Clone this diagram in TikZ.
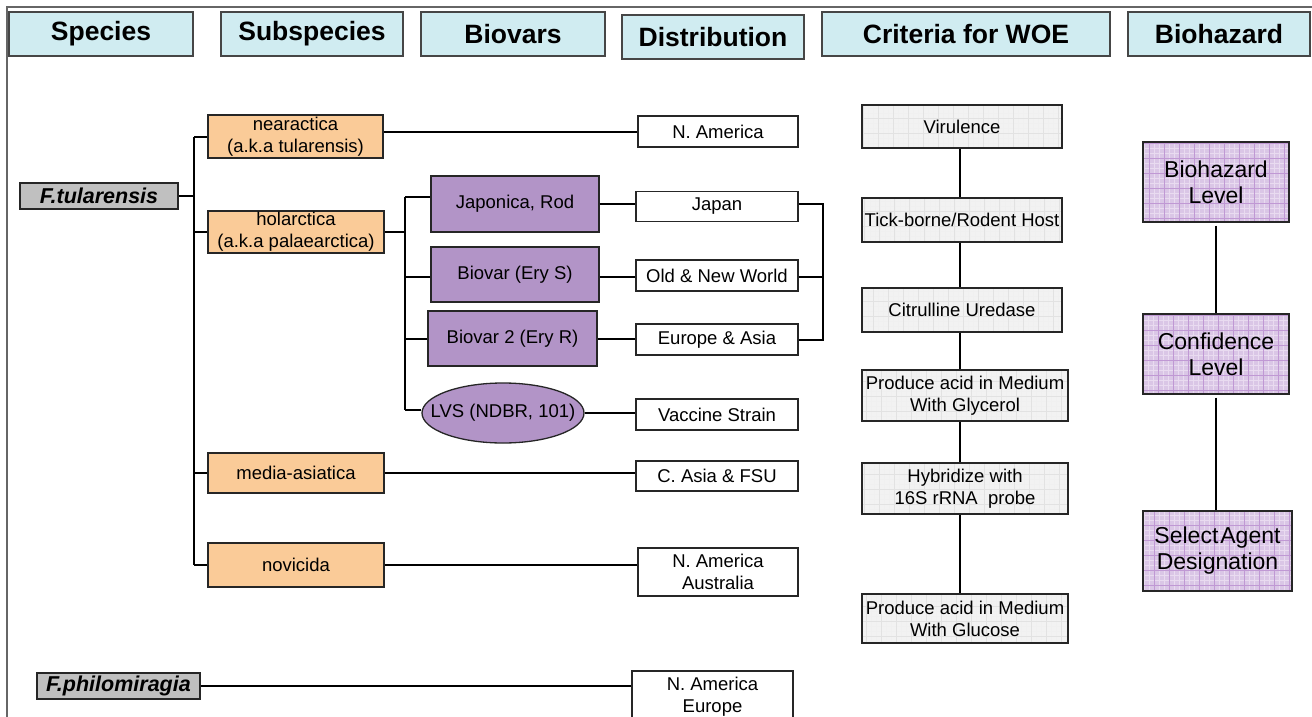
\documentclass[tikz,border=0pt]{standalone}
\usepackage{fontspec}
\setmainfont{Liberation Sans}
\usetikzlibrary{shapes.geometric}
\definecolor{hdrfill}{RGB}{208,236,241}
\definecolor{hdrline}{RGB}{70,70,70}
\definecolor{orangefill}{RGB}{250,203,152}
\definecolor{purplefill}{RGB}{178,148,199}
\definecolor{specfill}{RGB}{192,192,192}
\definecolor{critfill}{RGB}{242,242,242}
\definecolor{critgrid}{RGB}{226,226,226}
\definecolor{hazfill}{RGB}{218,198,230}
\definecolor{hazgrid}{RGB}{192,152,212}
\tikzset{
  hdr/.style={draw=hdrline, line width=1.4pt, fill=hdrfill, inner sep=0pt,
    font=\fontsize{26.5}{30}\selectfont\bfseries},
  box/.style={draw=black!85, line width=1.3pt, inner sep=0pt, align=center,
    font=\fontsize{18.5}{22}\selectfont},
  subbox/.style={box, fill=orangefill},
  biobox/.style={box, fill=purplefill},
  distbox/.style={box, fill=white},
  specbox/.style={box, fill=specfill, font=\fontsize{21.5}{24}\selectfont\bfseries\itshape},
  critbox/.style={box, fill=critfill, path picture={
      \draw[critgrid!50, line width=0.3pt, step=5pt] (path picture bounding box.south west) grid (path picture bounding box.north east);
      \draw[critgrid, line width=0.4pt, step=15pt] (path picture bounding box.south west) grid (path picture bounding box.north east);}},
  hazbox/.style={box, fill=hazfill, font=\fontsize{23}{26}\selectfont, path picture={
      \draw[hazgrid!35, line width=0.3pt, step=5pt] (path picture bounding box.south west) grid (path picture bounding box.north east);
      \draw[hazgrid, line width=0.6pt, step=15pt] (path picture bounding box.south west) grid (path picture bounding box.north east);}},
  conn/.style={line width=2pt, black},
  framel/.style={line width=1.2pt, black!60}
}
\begin{document}
\begin{tikzpicture}[x=1pt, y=-1pt]
\useasboundingbox (0,0) rectangle (1312,717);
\clip (0,0) rectangle (1312,717);
% frame
\draw[framel] (7,717) -- (7,7) -- (1312,7);
% headers
\node[hdr, minimum width=184pt, minimum height=44pt] (hspec) at (101,34) {Species};
\node[hdr, minimum width=182pt, minimum height=44pt] (hsub) at (312,34) {Subspecies};
\node[hdr, minimum width=184pt, minimum height=44pt] (hbio) at (513,34) {Biovars};
\node[hdr, minimum width=182pt, minimum height=44pt] (hdist) at (713,37) {Distribution};
\node[hdr, minimum width=288pt, minimum height=44pt] (hcrit) at (966,34) {Criteria for WOE};
\node[hdr, minimum width=182pt, minimum height=44pt] (hhaz) at (1219,34) {Biohazard};
% species
\node[specbox, minimum width=158pt, minimum height=26pt] (ftul) at (99,196) {F.tularensis};
\node[specbox, minimum width=163pt, minimum height=26pt] (philo) at (118.5,686) {F.philomiragia};
% subspecies
\node[subbox, minimum width=175pt, minimum height=43pt] (near) at (295.5,136.5) {nearactica\\(a.k.a tularensis)};
\node[subbox, minimum width=176pt, minimum height=42pt] (holar) at (296,232) {holarctica\\(a.k.a palaearctica)};
\node[subbox, minimum width=176pt, minimum height=40pt] (media) at (296,473) {media-asiatica};
\node[subbox, minimum width=176pt, minimum height=44pt] (novi) at (296,565) {novicida};
% biovars
\node[biobox, minimum width=168pt, minimum height=56pt] (japo) at (515,204) {Japonica, Rod};
\node[biobox, minimum width=168pt, minimum height=55pt] (erys) at (515,274.5) {Biovar (Ery S)};
\node[biobox, minimum width=169pt, minimum height=55pt] (eryr) at (512.5,338.5) {Biovar 2 (Ery R)};
\node[biobox, ellipse, inner xsep=-17pt, inner ysep=0pt, minimum width=162pt, minimum height=60pt] (lvs) at (503,413) {LVS (NDBR, 101)};
% distribution
\node[distbox, minimum width=160pt, minimum height=31pt] (namer) at (718,131.5) {N. America};
\node[distbox, minimum width=162pt, minimum height=30pt] (japan) at (717,206.5) {Japan};
\node[distbox, minimum width=162pt, minimum height=31pt] (oldnew) at (717,275.5) {Old \& New World};
\node[distbox, minimum width=162pt, minimum height=31pt] (euras) at (717,339.5) {Europe \& Asia};
\node[distbox, minimum width=162pt, minimum height=31pt] (vacc) at (717,414.5) {Vaccine Strain};
\node[distbox, minimum width=162pt, minimum height=30pt] (casia) at (717,476) {C. Asia \& FSU};
\node[distbox, minimum width=160pt, minimum height=48pt] (naus) at (718,572) {N. America\\Australia};
\node[distbox, minimum width=161pt, minimum height=52pt] (neur) at (712.5,697) {N. America\\Europe};
% criteria
\node[critbox, minimum width=200pt, minimum height=43pt] (virul) at (962,126.5) {Virulence};
\node[critbox, minimum width=200pt, minimum height=44pt] (tick) at (962,220) {Tick-borne/Rodent Host};
\node[critbox, minimum width=200pt, minimum height=44pt] (citr) at (962,310) {Citrulline Uredase};
\node[critbox, minimum width=206pt, minimum height=51pt] (glyc) at (965,395.5) {Produce acid in Medium\\With Glycerol};
\node[critbox, minimum width=206pt, minimum height=51pt] (hybr) at (965,488.5) {Hybridize with\\16S rRNA\ \ probe};
\node[critbox, minimum width=206pt, minimum height=49pt] (gluc) at (965,618.5) {Produce acid in Medium\\With Glucose};
% biohazard
\node[hazbox, minimum width=146pt, minimum height=80pt] (blev) at (1216,182) {Biohazard\\Level};
\node[hazbox, minimum width=146pt, minimum height=80pt] (conf) at (1216,354) {Confidence\\Level};
\node[hazbox, minimum width=149pt, minimum height=80pt] (sel) at (1217.5,551) {Select\hspace{2pt}Agent\\Designation};
% coordinates
\coordinate (trA) at (194,136.5);
\coordinate (trB) at (194,565);
\coordinate (btA) at (405,197);
\coordinate (btB) at (405,410);
\coordinate (brA) at (823,204);
\coordinate (brB) at (823,340);
\coordinate (cline) at (960,0);
% species connectors
\draw[conn] (ftul.east) -- (ftul.east -| trA);
\draw[conn] (trA) -- (trB);
\draw[conn] (trA) -- (trA -| near.west);
\draw[conn] (holar.west -| trA) -- (holar.west);
\draw[conn] (media.west -| trA) -- (media.west);
\draw[conn] (trB) -- (trB -| novi.west);
% subspecies to distribution
\draw[conn] (near.east |- namer.west) -- (namer.west);
\draw[conn] (media.east) -- (media.east -| casia.west);
\draw[conn] (novi.east) -- (novi.east -| naus.west);
\draw[conn] (philo.east) -- (philo.east -| neur.west);
% biovars
\draw[conn] (holar.east) -- (holar.east -| btA);
\draw[conn] (btA) -- (btB);
\draw[conn] (btA) -- (btA -| japo.west);
\draw[conn] (erys.west |- 0,277) -- (btA |- 0,277);
\draw[conn] (eryr.west |- 0,339) -- (btA |- 0,339);
\draw[conn] (btB) -- (btB -| lvs.west);
% biovar to distribution
\draw[conn] (japo.east) -- (japo.east -| japan.west);
\draw[conn] (erys.east |- 0,277) -- (oldnew.west |- 0,277);
\draw[conn] (eryr.east |- 0,339) -- (euras.west |- 0,339);
\draw[conn] (lvs.east) -- (lvs.east -| vacc.west);
% bracket
\draw[conn] (japan.east |- brA) -- (brA) -- (brB) -- (euras.east |- brB);
\draw[conn] (oldnew.east |- 0,277) -- (brA |- 0,277);
% criteria column
\draw[conn] (virul.south -| cline) -- (tick.north -| cline);
\draw[conn] (tick.south -| cline) -- (citr.north -| cline);
\draw[conn] (citr.south -| cline) -- (glyc.north -| cline);
\draw[conn] (glyc.south -| cline) -- (hybr.north -| cline);
\draw[conn] (hybr.south -| cline) -- (gluc.north -| cline);
% biohazard column
\draw[conn] ([yshift=-3pt]blev.south) -- (conf.north);
\draw[conn] ([yshift=-3pt]conf.south) -- (conf.south |- sel.north);
\end{tikzpicture}
\end{document}
